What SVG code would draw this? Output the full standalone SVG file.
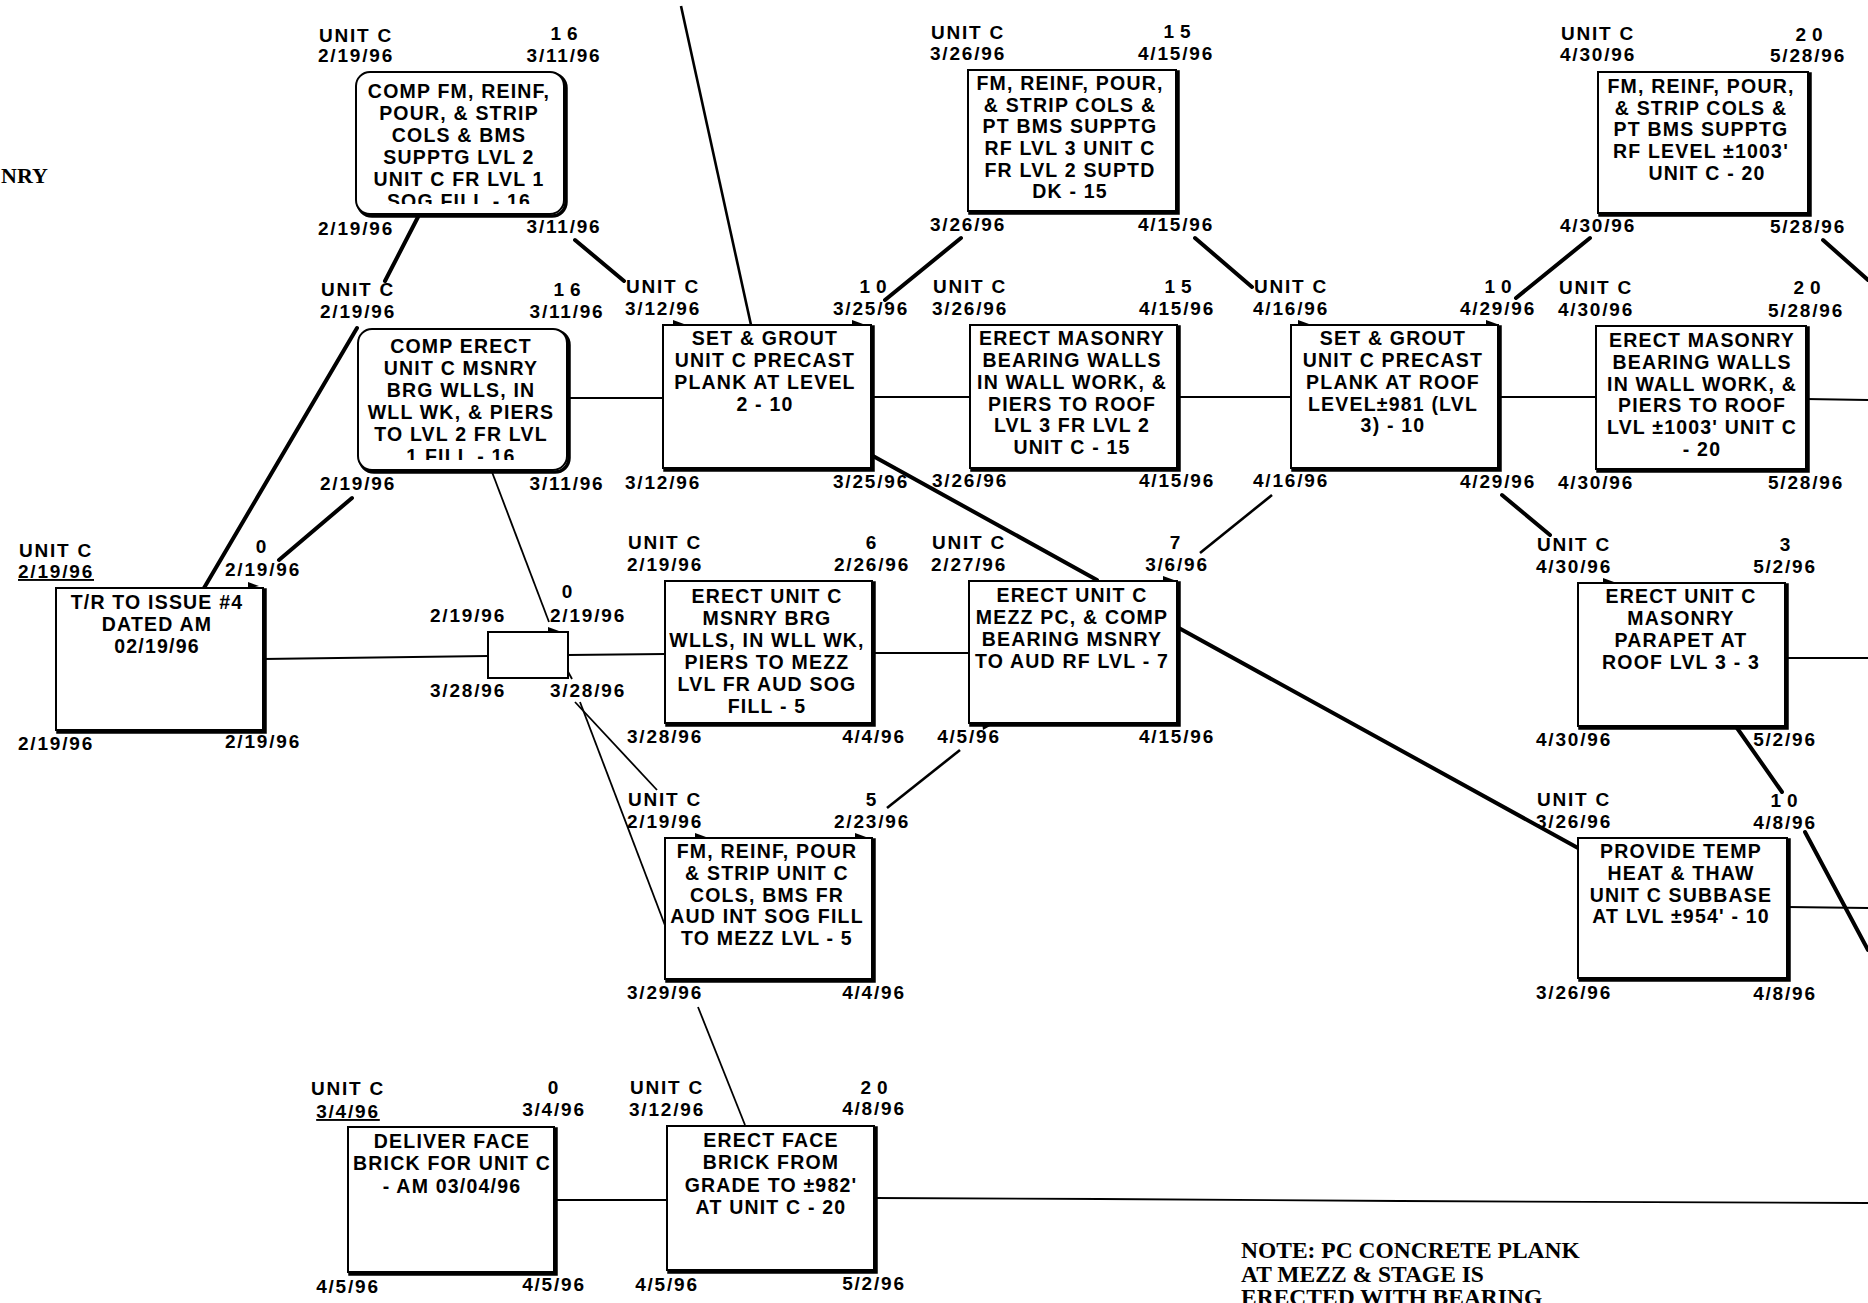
<svg xmlns="http://www.w3.org/2000/svg" width="1868" height="1303" viewBox="0 0 1868 1303">
<style>
.bx{fill:#fff;stroke:#000;stroke-width:2}
.sh{fill:none;stroke:#000;stroke-width:3.5}
.t{font-family:"Liberation Sans",Arial,sans-serif;font-weight:bold;font-size:19.5px;letter-spacing:1.2px;text-anchor:middle;fill:#000}
.l{font-family:"Liberation Sans",Arial,sans-serif;font-weight:bold;font-size:19px;letter-spacing:1.8px;text-anchor:middle;fill:#000}
.n{font-family:"Liberation Sans",Arial,sans-serif;font-weight:bold;font-size:19px;letter-spacing:6px;text-anchor:middle;fill:#000}
.serif{font-family:"Liberation Serif","Times New Roman",serif;font-weight:bold;fill:#000}
.thick{stroke:#000;stroke-width:4;fill:none;stroke-linecap:round}
.thin{stroke:#000;stroke-width:1.8;fill:none}
.mid{stroke:#000;stroke-width:2.6;fill:none}
.ah{fill:#000;stroke:none}
</style>
<defs>
<clipPath id="clipA"><rect x="356" y="72" width="208" height="132"/></clipPath>
<clipPath id="clipB"><rect x="358" y="329" width="209" height="131"/></clipPath>
</defs>
<rect x="0" y="0" width="1868" height="1303" fill="#fff"/>

<g id="connectors">
<line class="mid" x1="681" y1="6" x2="751" y2="325"/>
<line class="thick" x1="418" y1="217" x2="385" y2="281"/>
<line class="thick" x1="575" y1="240" x2="624" y2="281"/>
<line class="thick" x1="204" y1="588" x2="357" y2="328"/>
<line class="thick" x1="352" y1="498" x2="279" y2="560"/>
<line class="thin" x1="263" y1="659" x2="488" y2="656"/>
<line class="thin" x1="568" y1="655" x2="665" y2="654"/>
<line class="thin" x1="492" y1="472" x2="549" y2="622"/>
<line class="thin" x1="575" y1="702" x2="657" y2="790"/>
<line class="thin" x1="580" y1="702" x2="666" y2="928"/>
<line class="thin" x1="569" y1="398" x2="663" y2="398"/>
<line class="thin" x1="871" y1="397" x2="970" y2="397"/>
<line class="thin" x1="1177" y1="397" x2="1291" y2="397"/>
<line class="thin" x1="1498" y1="397" x2="1596" y2="397"/>
<line class="thin" x1="1806" y1="399" x2="1868" y2="400"/>
<line class="thick" x1="961" y1="238" x2="885" y2="300"/>
<line class="thick" x1="1195" y1="238" x2="1252" y2="287"/>
<line class="thick" x1="1590" y1="238" x2="1516" y2="298"/>
<line class="thick" x1="1823" y1="240" x2="1868" y2="280"/>
<line class="thick" x1="873" y1="456" x2="1097" y2="580"/>
<line class="mid" x1="1272" y1="495" x2="1200" y2="553"/>
<line class="thick" x1="1502" y1="495" x2="1550" y2="535"/>
<line class="thick" x1="1177" y1="627" x2="1578" y2="848"/>
<line class="thin" x1="872" y1="653" x2="969" y2="653"/>
<line class="thin" x1="1785" y1="658" x2="1868" y2="658"/>
<line class="thick" x1="1737" y1="728" x2="1782" y2="792"/>
<line class="thick" x1="1805" y1="832" x2="1868" y2="950"/>
<line class="thin" x1="1787" y1="907" x2="1868" y2="908"/>
<line class="mid" x1="960" y1="750" x2="887" y2="808"/>
<line class="thin" x1="698" y1="1007" x2="745" y2="1125"/>
<line class="thin" x1="554" y1="1200" x2="667" y2="1200"/>
<polyline class="thin" points="874,1198 1100,1199 1400,1201 1868,1203"/>
<line class="thin" x1="566" y1="668" x2="572" y2="679"/>
<path class="ah" d="M248 582 L259 586 L248 589 Z"/>
<path class="ah" d="M673 320 L684 324 L673 326 Z"/>
<path class="ah" d="M852 320 L863 324 L852 326 Z"/>
<path class="ah" d="M1298 320 L1309 324 L1298 326 Z"/>
<path class="ah" d="M1486 320 L1497 324 L1486 326 Z"/>
<path class="ah" d="M1163 576 L1174 580 L1163 582 Z"/>
<path class="ah" d="M982 722 L990 726 L983 730 Z"/>
<path class="ah" d="M548 627 L559 631 L548 633 Z"/>
<path class="ah" d="M695 833 L706 837 L695 839 Z"/>
<path class="ah" d="M855 833 L866 837 L855 839 Z"/>
<path class="ah" d="M1603 578 L1614 582 L1603 584 Z"/>
</g>

<text class="serif" x="1" y="183" font-size="22">NRY</text>

<g id="node-A">
<rect class="sh" x="358" y="74" width="208" height="142" rx="14"/>
<rect class="bx" x="356" y="72" width="208" height="142" rx="14"/>
<text class="t" clip-path="url(#clipA)"><tspan x="459" y="98">COMP FM, REINF,</tspan><tspan x="459" y="120">POUR, &amp; STRIP</tspan><tspan x="459" y="142">COLS &amp; BMS</tspan><tspan x="459" y="164">SUPPTG LVL 2</tspan><tspan x="459" y="186">UNIT C FR LVL 1</tspan><tspan x="459" y="208">SOG FILL - 16</tspan></text>
<text class="l" x="356" y="42">UNIT C</text><text class="l" x="356" y="62">2/19/96</text>
<text class="n" x="567" y="40">16</text><text class="l" x="564" y="62">3/11/96</text>
<text class="l" x="356" y="235">2/19/96</text><text class="l" x="564" y="233">3/11/96</text>
</g>

<g id="node-B">
<rect class="sh" x="360" y="331" width="209" height="141" rx="14"/>
<rect class="bx" x="358" y="329" width="209" height="141" rx="14"/>
<text class="t" clip-path="url(#clipB)"><tspan x="461" y="353">COMP ERECT</tspan><tspan x="461" y="375">UNIT C MSNRY</tspan><tspan x="461" y="397">BRG WLLS, IN</tspan><tspan x="461" y="419">WLL WK, &amp; PIERS</tspan><tspan x="461" y="441">TO LVL 2 FR LVL</tspan><tspan x="461" y="463">1 FILL - 16</tspan></text>
<text class="l" x="358" y="296">UNIT C</text><text class="l" x="358" y="318">2/19/96</text>
<text class="n" x="570" y="296">16</text><text class="l" x="567" y="318">3/11/96</text>
<text class="l" x="358" y="490">2/19/96</text><text class="l" x="567" y="490">3/11/96</text>
</g>

<g id="node-C">
<rect class="sh" x="58" y="590" width="207" height="142"/>
<rect class="bx" x="56" y="588" width="207" height="142"/>
<text class="t"><tspan x="157" y="609">T/R TO ISSUE #4</tspan><tspan x="157" y="631">DATED AM</tspan><tspan x="157" y="653">02/19/96</tspan></text>
<text class="l" x="56" y="557">UNIT C</text><text class="l" x="56" y="578" text-decoration="underline">2/19/96</text>
<text class="n" x="264" y="553">0</text><text class="l" x="263" y="576">2/19/96</text>
<text class="l" x="56" y="750">2/19/96</text><text class="l" x="263" y="748">2/19/96</text>
</g>

<g id="node-D">
<rect class="bx" x="488" y="632" width="80" height="46"/>
<text class="l" x="468" y="622">2/19/96</text>
<text class="n" x="570" y="598">0</text><text class="l" x="588" y="622">2/19/96</text>
<text class="l" x="468" y="697">3/28/96</text><text class="l" x="588" y="697">3/28/96</text>
</g>

<g id="node-E">
<rect class="sh" x="665" y="327" width="208" height="143"/>
<rect class="bx" x="663" y="325" width="208" height="143"/>
<text class="t"><tspan x="765" y="345">SET &amp; GROUT</tspan><tspan x="765" y="367">UNIT C PRECAST</tspan><tspan x="765" y="389">PLANK AT LEVEL</tspan><tspan x="765" y="411">2 - 10</tspan></text>
<text class="l" x="663" y="293">UNIT C</text><text class="l" x="663" y="315">3/12/96</text>
<text class="n" x="876" y="293">10</text><text class="l" x="871" y="315">3/25/96</text>
<text class="l" x="663" y="489">3/12/96</text><text class="l" x="871" y="488">3/25/96</text>
</g>

<g id="node-F">
<rect class="sh" x="970" y="72" width="208" height="141"/>
<rect class="bx" x="968" y="70" width="208" height="141"/>
<text class="t"><tspan x="1070" y="90">FM, REINF, POUR,</tspan><tspan x="1070" y="112">&amp; STRIP COLS &amp;</tspan><tspan x="1070" y="133">PT BMS SUPPTG</tspan><tspan x="1070" y="155">RF LVL 3 UNIT C</tspan><tspan x="1070" y="177">FR LVL 2 SUPTD</tspan><tspan x="1070" y="198">DK - 15</tspan></text>
<text class="l" x="968" y="39">UNIT C</text><text class="l" x="968" y="60">3/26/96</text>
<text class="n" x="1180" y="38">15</text><text class="l" x="1176" y="60">4/15/96</text>
<text class="l" x="968" y="231">3/26/96</text><text class="l" x="1176" y="231">4/15/96</text>
</g>

<g id="node-G">
<rect class="sh" x="972" y="327" width="207" height="143"/>
<rect class="bx" x="970" y="325" width="207" height="143"/>
<text class="t"><tspan x="1072" y="345">ERECT MASONRY</tspan><tspan x="1072" y="367">BEARING WALLS</tspan><tspan x="1072" y="389">IN WALL WORK, &amp;</tspan><tspan x="1072" y="411">PIERS TO ROOF</tspan><tspan x="1072" y="432">LVL 3 FR LVL 2</tspan><tspan x="1072" y="454">UNIT C - 15</tspan></text>
<text class="l" x="970" y="293">UNIT C</text><text class="l" x="970" y="315">3/26/96</text>
<text class="n" x="1181" y="293">15</text><text class="l" x="1177" y="315">4/15/96</text>
<text class="l" x="970" y="487">3/26/96</text><text class="l" x="1177" y="487">4/15/96</text>
</g>

<g id="node-H">
<rect class="sh" x="1293" y="327" width="207" height="143"/>
<rect class="bx" x="1291" y="325" width="207" height="143"/>
<text class="t"><tspan x="1393" y="345">SET &amp; GROUT</tspan><tspan x="1393" y="367">UNIT C PRECAST</tspan><tspan x="1393" y="389">PLANK AT ROOF</tspan><tspan x="1393" y="411">LEVEL±981 (LVL</tspan><tspan x="1393" y="432">3) - 10</tspan></text>
<text class="l" x="1291" y="293">UNIT C</text><text class="l" x="1291" y="315">4/16/96</text>
<text class="n" x="1501" y="293">10</text><text class="l" x="1498" y="315">4/29/96</text>
<text class="l" x="1291" y="487">4/16/96</text><text class="l" x="1498" y="488">4/29/96</text>
</g>

<g id="node-I">
<rect class="sh" x="1600" y="74" width="210" height="141"/>
<rect class="bx" x="1598" y="72" width="210" height="141"/>
<text class="t"><tspan x="1701" y="93">FM, REINF, POUR,</tspan><tspan x="1701" y="115">&amp; STRIP COLS &amp;</tspan><tspan x="1701" y="136">PT BMS SUPPTG</tspan><tspan x="1701" y="158">RF LEVEL ±1003'</tspan><tspan x="1707" y="180">UNIT C - 20</tspan></text>
<text class="l" x="1598" y="40">UNIT C</text><text class="l" x="1598" y="61">4/30/96</text>
<text class="n" x="1812" y="41">20</text><text class="l" x="1808" y="62">5/28/96</text>
<text class="l" x="1598" y="232">4/30/96</text><text class="l" x="1808" y="233">5/28/96</text>
</g>

<g id="node-J">
<rect class="sh" x="1598" y="328" width="210" height="143"/>
<rect class="bx" x="1596" y="326" width="210" height="143"/>
<text class="t"><tspan x="1702" y="347">ERECT MASONRY</tspan><tspan x="1702" y="369">BEARING WALLS</tspan><tspan x="1702" y="391">IN WALL WORK, &amp;</tspan><tspan x="1702" y="412">PIERS TO ROOF</tspan><tspan x="1702" y="434">LVL ±1003' UNIT C</tspan><tspan x="1702" y="456">- 20</tspan></text>
<text class="l" x="1596" y="294">UNIT C</text><text class="l" x="1596" y="316">4/30/96</text>
<text class="n" x="1810" y="294">20</text><text class="l" x="1806" y="317">5/28/96</text>
<text class="l" x="1596" y="489">4/30/96</text><text class="l" x="1806" y="489">5/28/96</text>
</g>

<g id="node-K">
<rect class="sh" x="667" y="583" width="207" height="142"/>
<rect class="bx" x="665" y="581" width="207" height="142"/>
<text class="t"><tspan x="767" y="603">ERECT UNIT C</tspan><tspan x="767" y="625">MSNRY BRG</tspan><tspan x="767" y="647">WLLS, IN WLL WK,</tspan><tspan x="767" y="669">PIERS TO MEZZ</tspan><tspan x="767" y="691">LVL FR AUD SOG</tspan><tspan x="767" y="713">FILL - 5</tspan></text>
<text class="l" x="665" y="549">UNIT C</text><text class="l" x="665" y="571">2/19/96</text>
<text class="n" x="874" y="549">6</text><text class="l" x="872" y="571">2/26/96</text>
<text class="l" x="665" y="743">3/28/96</text><text class="l" x="874" y="743">4/4/96</text>
</g>

<g id="node-L">
<rect class="sh" x="971" y="583" width="208" height="142"/>
<rect class="bx" x="969" y="581" width="208" height="142"/>
<text class="t"><tspan x="1072" y="602">ERECT UNIT C</tspan><tspan x="1072" y="624">MEZZ PC, &amp; COMP</tspan><tspan x="1072" y="646">BEARING MSNRY</tspan><tspan x="1072" y="668">TO AUD RF LVL - 7</tspan></text>
<text class="l" x="969" y="549">UNIT C</text><text class="l" x="969" y="571">2/27/96</text>
<text class="n" x="1178" y="549">7</text><text class="l" x="1177" y="571">3/6/96</text>
<text class="l" x="969" y="743">4/5/96</text><text class="l" x="1177" y="743">4/15/96</text>
</g>

<g id="node-M">
<rect class="sh" x="1580" y="585" width="207" height="143"/>
<rect class="bx" x="1578" y="583" width="207" height="143"/>
<text class="t"><tspan x="1681" y="603">ERECT UNIT C</tspan><tspan x="1681" y="625">MASONRY</tspan><tspan x="1681" y="647">PARAPET AT</tspan><tspan x="1681" y="669">ROOF LVL 3 - 3</tspan></text>
<text class="l" x="1574" y="551">UNIT C</text><text class="l" x="1574" y="573">4/30/96</text>
<text class="n" x="1788" y="551">3</text><text class="l" x="1785" y="573">5/2/96</text>
<text class="l" x="1574" y="746">4/30/96</text><text class="l" x="1785" y="746">5/2/96</text>
</g>

<g id="node-N">
<rect class="sh" x="667" y="840" width="207" height="141"/>
<rect class="bx" x="665" y="838" width="207" height="141"/>
<text class="t"><tspan x="767" y="858">FM, REINF, POUR</tspan><tspan x="767" y="880">&amp; STRIP UNIT C</tspan><tspan x="767" y="902">COLS, BMS FR</tspan><tspan x="767" y="923">AUD INT SOG FILL</tspan><tspan x="767" y="945">TO MEZZ LVL - 5</tspan></text>
<text class="l" x="665" y="806">UNIT C</text><text class="l" x="665" y="828">2/19/96</text>
<text class="n" x="874" y="806">5</text><text class="l" x="872" y="828">2/23/96</text>
<text class="l" x="665" y="999">3/29/96</text><text class="l" x="874" y="999">4/4/96</text>
</g>

<g id="node-O">
<rect class="sh" x="1580" y="840" width="209" height="140"/>
<rect class="bx" x="1578" y="838" width="209" height="140"/>
<text class="t"><tspan x="1681" y="858">PROVIDE TEMP</tspan><tspan x="1681" y="880">HEAT &amp; THAW</tspan><tspan x="1681" y="902">UNIT C SUBBASE</tspan><tspan x="1681" y="923">AT LVL ±954' - 10</tspan></text>
<text class="l" x="1574" y="806">UNIT C</text><text class="l" x="1574" y="828">3/26/96</text>
<text class="n" x="1787" y="807">10</text><text class="l" x="1785" y="829">4/8/96</text>
<text class="l" x="1574" y="999">3/26/96</text><text class="l" x="1785" y="1000">4/8/96</text>
</g>

<g id="node-P">
<rect class="sh" x="350" y="1129" width="206" height="145"/>
<rect class="bx" x="348" y="1127" width="206" height="145"/>
<text class="t"><tspan x="452" y="1148">DELIVER FACE</tspan><tspan x="452" y="1170">BRICK FOR UNIT C</tspan><tspan x="452" y="1193">- AM 03/04/96</tspan></text>
<text class="l" x="348" y="1095">UNIT C</text><text class="l" x="348" y="1118" text-decoration="underline">3/4/96</text>
<text class="n" x="556" y="1094">0</text><text class="l" x="554" y="1116">3/4/96</text>
<text class="l" x="348" y="1293">4/5/96</text><text class="l" x="554" y="1291">4/5/96</text>
</g>

<g id="node-Q">
<rect class="sh" x="669" y="1128" width="207" height="144"/>
<rect class="bx" x="667" y="1126" width="207" height="144"/>
<text class="t"><tspan x="771" y="1147">ERECT FACE</tspan><tspan x="771" y="1169">BRICK FROM</tspan><tspan x="771" y="1192">GRADE TO ±982'</tspan><tspan x="771" y="1214">AT UNIT C - 20</tspan></text>
<text class="l" x="667" y="1094">UNIT C</text><text class="l" x="667" y="1116">3/12/96</text>
<text class="n" x="877" y="1094">20</text><text class="l" x="874" y="1115">4/8/96</text>
<text class="l" x="667" y="1291">4/5/96</text><text class="l" x="874" y="1290">5/2/96</text>
</g>

<g id="note">
<text class="serif" font-size="23.5"><tspan x="1241" y="1258">NOTE: PC CONCRETE PLANK</tspan><tspan x="1241" y="1282">AT MEZZ &amp; STAGE IS</tspan><tspan x="1241" y="1305">ERECTED WITH BEARING</tspan></text>
</g>
</svg>
